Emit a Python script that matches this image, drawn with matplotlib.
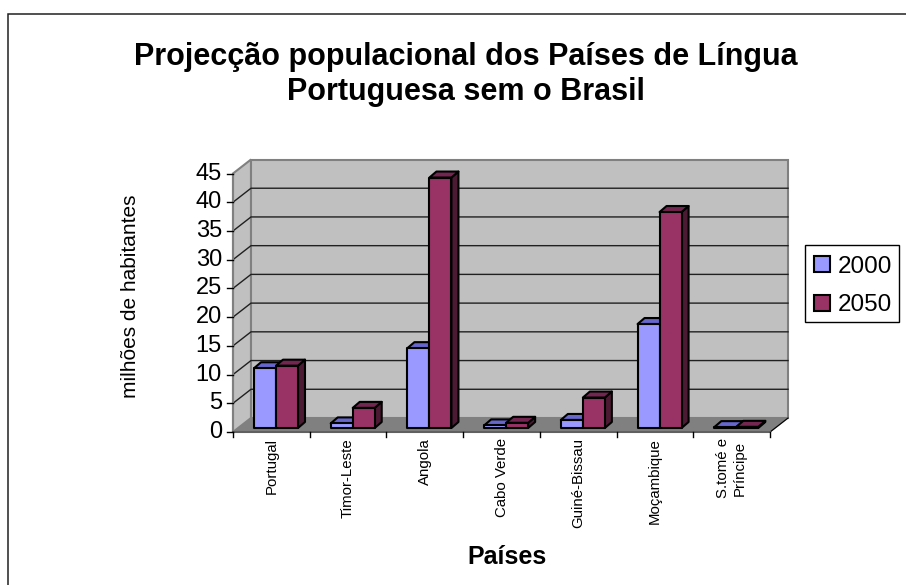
import matplotlib
matplotlib.use("Agg")
import matplotlib.pyplot as plt
from matplotlib.patches import Polygon, Rectangle

plt.rcParams["font.family"] = ["Liberation Sans", "DejaVu Sans"]

countries = ["Portugal", "Timor-Leste", "Angola", "Cabo Verde", "Guiné-Bissau",
             "Moçambique", "S.tomé e\nPríncipe"]
pop_2000 = [10.4, 0.8, 13.9, 0.45, 1.4, 18.1, 0.15]
pop_2050 = [10.85, 3.5, 43.6, 0.9, 5.3, 37.6, 0.2]
yticks = [0, 5, 10, 15, 20, 25, 30, 35, 40, 45]

W, H = 906, 585
BLUE = ("#9999FF", "#6666CC", "#4D4D80")
RED = ("#993366", "#732650", "#4D1A33")

fig = plt.figure(figsize=(W / 100, H / 100), dpi=100)
fig.patch.set_facecolor("white")
fig.add_artist(Rectangle((7.5 / W, -0.02), 1, 1.02 - 14 / H, transform=fig.transFigure,
                         fill=False, ec="#202020", lw=1.1))

# axes box is the front plane of the 3d chart
left, right, top, bottom = 233, 770, 173.5, 432
ax = fig.add_axes([left / W, 1 - bottom / H, (right - left) / W, (bottom - top) / H])
ax.set_xlim(0, len(countries))
ax.set_ylim(0, 45)
ax.axis("off")

px_x = (right - left) / len(countries)
px_y = (bottom - top) / 45
dx = 18 / px_x
dy = 14 / px_y


def poly(points, **kw):
    ax.add_patch(Polygon(points, closed=True, clip_on=False, **kw))


n = len(countries)
ymax = yticks[-1]
poly([(0, 0), (dx, dy), (n + dx, dy), (n, 0)], fc="#808080", ec="#808080", lw=1, zorder=1)
poly([(0, 0), (dx, dy), (dx, ymax + dy), (0, ymax)], fc="#C0C0C0", ec="#808080", lw=1.5, zorder=1)
poly([(dx, dy), (n + dx, dy), (n + dx, ymax + dy), (dx, ymax + dy)], fc="#C0C0C0", ec="#808080", lw=1.5, zorder=1)
ax.plot([n, n + dx], [0, dy], color="black", lw=0.8, clip_on=False, zorder=1.5)

for v in yticks[1:-1]:
    ax.plot([0, dx, n + dx], [v, v + dy, v + dy], color="#202020", lw=1, clip_on=False, zorder=2)

# axis lines and ticks
ax.plot([0, 0], [0, ymax], color="#808080", lw=1.5, clip_on=False, zorder=2)
ax.plot([0, n], [0, 0], color="#606060", lw=1.5, clip_on=False, zorder=2)
for v in yticks:
    ax.plot([-6 / px_x, 0], [v, v], color="black", lw=1, clip_on=False, zorder=2)
    ax.text(-11 / px_x, v, str(v), ha="right", va="center", fontsize=17, zorder=3)
for i in range(n + 1):
    ax.plot([i, i], [0, -5 / px_y], color="black", lw=1, clip_on=False, zorder=2)

# bars sit a bit behind the front plane
bar_w = 22 / px_x
start = 21 / px_x
base = 4 / px_y
bx = 7 / px_x
by = 6 / px_y


def bar(x, v, colors):
    face, upper, side = colors
    y0, y1 = base, base + v
    edge = dict(ec="black", lw=1.5, joinstyle="round", zorder=4)
    poly([(x + bar_w, y0), (x + bar_w + bx, y0 + by), (x + bar_w + bx, y1 + by), (x + bar_w, y1)], fc=side, **edge)
    poly([(x, y1), (x + bx, y1 + by), (x + bar_w + bx, y1 + by), (x + bar_w, y1)], fc=upper, **edge)
    poly([(x, y0), (x + bar_w, y0), (x + bar_w, y1), (x, y1)], fc=face, **edge)


for i in range(n):
    bar(i + start, pop_2000[i], BLUE)
    bar(i + start + bar_w, pop_2050[i], RED)

for i, name in enumerate(countries):
    ax.text(i + 0.5, -6 / px_y, name, rotation=90, ha="center", va="top", ma="center",
            fontsize=10.8, linespacing=1.25)

fig.text(466 / W, 1 - 74.5 / H, "Projecção populacional dos Países de Língua\nPortuguesa sem o Brasil",
         ha="center", va="center", ma="center", fontsize=22, fontweight="bold", linespacing=1.2)
fig.text(131 / W, 1 - 296 / H, "milhões de habitantes", rotation=90, ha="center", va="center", fontsize=15)
fig.text(507 / W, 1 - 557 / H, "Países", ha="center", va="center", fontsize=18, fontweight="bold")

# frame drawn apart from the legend, the rows sit low in the box
fig.add_artist(Rectangle((805 / W, 1 - 322 / H), 94 / W, 77 / H, transform=fig.transFigure,
                         fc="white", ec="black", lw=1))
handles = [Rectangle((0, 0), 1, 1, fc=BLUE[0], ec="black", lw=1.5),
           Rectangle((0, 0), 1, 1, fc=RED[0], ec="black", lw=1.5)]
fig.legend(handles, ["2000", "2050"], loc="center left", bbox_to_anchor=(806 / W, 1 - 286 / H),
           frameon=False, fontsize=17.5,
           handlelength=0.65, handleheight=0.65, handletextpad=0.33, borderpad=0.33, labelspacing=0.68,
           borderaxespad=0)

fig.savefig("out.png", dpi=100)
